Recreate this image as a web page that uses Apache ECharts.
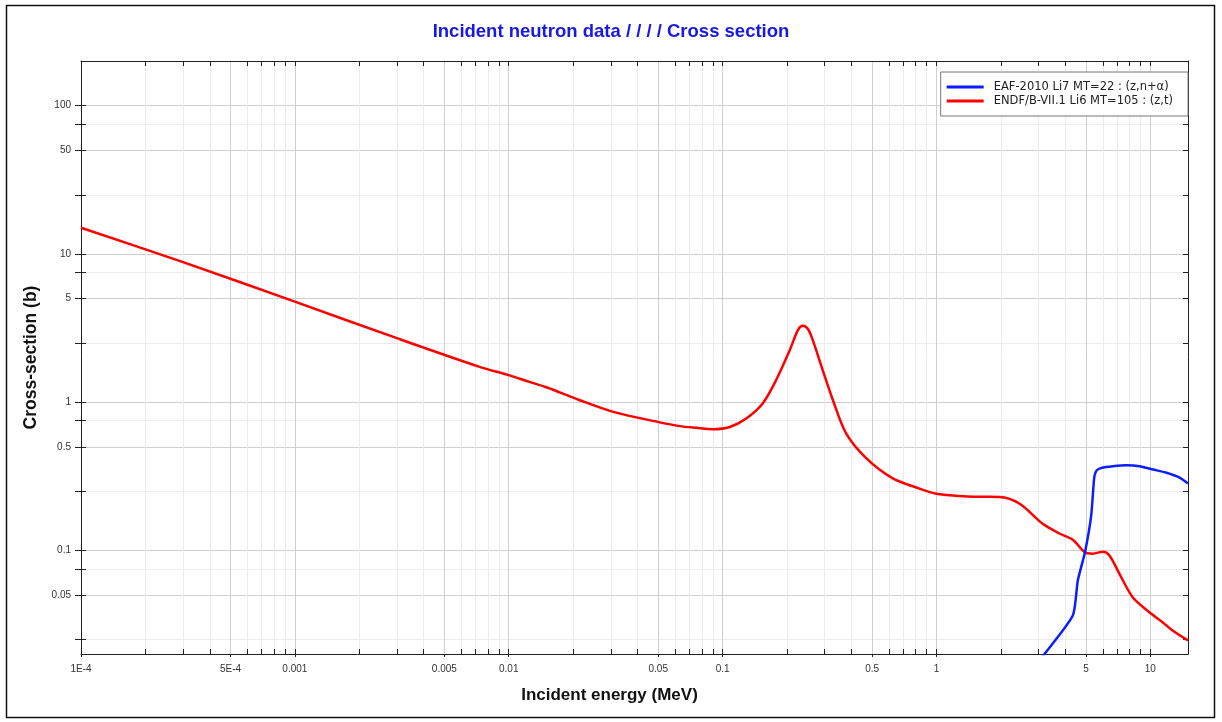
<!DOCTYPE html>
<html>
<head>
<meta charset="utf-8">
<script src="https://cdn.jsdelivr.net/npm/echarts@6/dist/echarts.min.js"></script>
<style>
html,body{margin:0;padding:0;background:#fff;}
#chart{width:1222px;height:722px;}
</style>
</head>
<body>
<div id="chart"></div>
<script>
// ---- Data (energies in MeV, cross sections in barns) ----
const endfName = 'ENDF/B-VII.1 Li6 MT=105 : (z,t)';
const endfEnergy = [1e-4, 3e-4, 1e-3, 3e-3, 7.31e-3, 0.01, 0.0125, 0.015, 0.0215, 0.0308, 0.0497, 0.063, 0.0754, 0.0903, 0.108, 0.129, 0.154, 0.178, 0.206, 0.225, 0.237, 0.251, 0.264, 0.294, 0.328, 0.378, 0.469, 0.625, 0.833, 1.0, 1.28, 1.59, 1.97, 2.44, 3.14, 3.76, 4.34, 4.92, 5.38, 6.0, 6.44, 7.17, 8.27, 9.89, 11.4, 12.7, 15];
const endfXs = [15.0, 8.8, 4.76, 2.7, 1.73, 1.52, 1.37, 1.26, 1.03, 0.86, 0.736, 0.689, 0.671, 0.657, 0.68, 0.776, 0.98, 1.41, 2.24, 3.06, 3.27, 3.1, 2.62, 1.64, 1.03, 0.615, 0.419, 0.306, 0.261, 0.241, 0.233, 0.230, 0.229, 0.207, 0.151, 0.130, 0.118, 0.0975, 0.095, 0.098, 0.0925, 0.0695, 0.0483, 0.0383, 0.0328, 0.0288, 0.0247];

const eafName = 'EAF-2010 Li7 MT=22 : (z,n+\u03b1)';
const eafEnergy = [2.9, 3.2, 4.34, 4.58, 4.95, 5.29, 5.47, 5.6, 5.78, 6.2, 6.67, 7.7, 8.89, 10.3, 11.8, 13.7, 15];
const eafXs = [0.0166, 0.020, 0.0364, 0.0627, 0.0975, 0.172, 0.313, 0.345, 0.356, 0.365, 0.37, 0.375, 0.37, 0.351, 0.335, 0.31, 0.283];

// ---- Axes ----
const xMin = 1e-4, xMax = 15;
const yMin = 0.02, yMax = 200;
const xLabelValues = [1e-4, 5e-4, 1e-3, 5e-3, 0.01, 0.05, 0.1, 0.5, 1, 5, 10];
const xLabelTexts = ['1E-4', '5E-4', '0.001', '0.005', '0.01', '0.05', '0.1', '0.5', '1', '5', '10'];
const xMinorMantissas = [2, 3, 4, 6, 7, 8, 9];
const yLabelValues = [100, 50, 10, 5, 1, 0.5, 0.1, 0.05];
const yLabelTexts = ['100', '50', '10', '5', '1', '0.5', '0.1', '0.05'];
const yMinorValues = [75, 25, 7.5, 2.5, 0.75, 0.25, 0.075, 0.025];

const L = Math.log10;
const xMajor = xLabelValues.map(L);
const xAll = [];
for (let d = -4; d <= 1; d++) {
  [1].concat(xMinorMantissas).forEach(m => {
    const v = m * Math.pow(10, d);
    if (v >= xMin && v <= xMax * 1.0001) xAll.push(L(v));
  });
}
const yMajor = yLabelValues.map(L);
const yAll = yMajor.concat(yMinorValues.map(L)).sort((a, b) => a - b);

function lookup(vals, texts, v) {
  let best = 0, bd = Infinity;
  vals.forEach((x, i) => { const d = Math.abs(L(x) - v); if (d < bd) { bd = d; best = i; } });
  return bd < 1e-6 ? texts[best] : '';
}

const FONT = "'Liberation Sans', Arial, sans-serif";
const lightGrid = '#ececec';
const darkGrid = '#cfcfcf';
const axisColor = '#222';

const xRange = { type: 'value', min: L(xMin), max: L(xMax), gridIndex: 0 };
const yRange = { type: 'value', min: L(yMin), max: L(yMax), gridIndex: 0 };

const chart = echarts.init(document.getElementById('chart'));
chart.setOption({
  animation: false,
  backgroundColor: '#fff',
  title: {
    text: 'Incident neutron data / / / / Cross section',
    left: 'center', top: 17,
    textStyle: { color: '#1818e6', fontSize: 18.5, fontWeight: 'bold', fontFamily: FONT }
  },
  legend: {
    orient: 'vertical', right: 34, top: 72,
    backgroundColor: '#fff', borderColor: '#777', borderWidth: 1,
    padding: [8, 15, 8, 6], itemGap: 0,
    itemWidth: 37, itemHeight: 3, icon: 'rect',
    textStyle: { fontSize: 11.5, lineHeight: 14, color: '#222', fontFamily: "'DejaVu Sans', sans-serif", padding: [0, 0, 0, 5] },
    data: [eafName, endfName]
  },
  grid: { left: 81, right: 34, top: 61, bottom: 68, containLabel: false },
  xAxis: [
    Object.assign({}, xRange, {
      position: 'bottom',
      name: 'Incident energy (MeV)', nameLocation: 'middle', nameGap: 33,
      nameTextStyle: { fontSize: 17, fontWeight: 'bold', color: '#111', fontFamily: FONT, padding: [0, 50, 0, 0] },
      axisLine: { show: true, onZero: false, lineStyle: { color: axisColor, width: 1 } },
      axisTick: { show: true, inside: true, length: 5, customValues: xAll, lineStyle: { color: axisColor } },
      axisLabel: { show: true, customValues: xMajor, margin: 10, fontSize: 10, color: '#333', fontFamily: FONT,
        formatter: v => lookup(xLabelValues, xLabelTexts, v) },
      splitLine: { show: true, lineStyle: { color: lightGrid, width: 1 } }
    }),
    Object.assign({}, xRange, {
      position: 'bottom',
      axisLine: { show: false, onZero: false },
      axisTick: { show: true, inside: false, length: 3, customValues: xMajor, lineStyle: { color: axisColor } },
      axisLabel: { show: false },
      splitLine: { show: true, lineStyle: { color: darkGrid, width: 1 } }
    }),
    Object.assign({}, xRange, {
      position: 'top',
      axisLine: { show: true, onZero: false, lineStyle: { color: axisColor, width: 1 } },
      axisTick: { show: true, inside: true, length: 5, customValues: xAll, lineStyle: { color: axisColor } },
      axisLabel: { show: false },
      splitLine: { show: false }
    })
  ],
  yAxis: [
    Object.assign({}, yRange, {
      position: 'left',
      name: 'Cross-section (b)', nameLocation: 'middle', nameGap: 41, nameRotate: 90,
      nameTextStyle: { fontSize: 17.5, fontWeight: 'bold', color: '#111', fontFamily: FONT },
      axisLine: { show: true, onZero: false, lineStyle: { color: axisColor, width: 1 } },
      axisTick: { show: true, inside: false, length: 6, customValues: yAll, lineStyle: { color: axisColor } },
      axisLabel: { show: true, customValues: yMajor, margin: 10, fontSize: 10, color: '#333', fontFamily: FONT,
        formatter: v => lookup(yLabelValues, yLabelTexts, v) },
      splitLine: { show: true, lineStyle: { color: lightGrid, width: 1 } }
    }),
    Object.assign({}, yRange, {
      position: 'left',
      axisLine: { show: false, onZero: false },
      axisTick: { show: true, inside: true, length: 5, customValues: yAll, lineStyle: { color: axisColor } },
      axisLabel: { show: false },
      splitLine: { show: false }
    }),
    Object.assign({}, yRange, {
      position: 'left',
      axisLine: { show: false, onZero: false },
      axisTick: { show: false, customValues: yMajor },
      axisLabel: { show: false },
      splitLine: { show: true, lineStyle: { color: darkGrid, width: 1 } }
    }),
    Object.assign({}, yRange, {
      position: 'right',
      axisLine: { show: true, onZero: false, lineStyle: { color: axisColor, width: 1 } },
      axisTick: { show: true, inside: true, length: 5, customValues: yAll, lineStyle: { color: axisColor } },
      axisLabel: { show: false },
      splitLine: { show: false }
    })
  ],
  graphic: [{
    type: 'rect', silent: true, z: 100,
    shape: { x: 6.5, y: 5.5, width: 1208, height: 712 },
    style: { fill: 'none', stroke: '#111', lineWidth: 1.5 }
  }],
  series: [
    {
      name: endfName, type: 'line', xAxisIndex: 0, yAxisIndex: 0,
      showSymbol: false, smooth: 0.3, clip: true,
      lineStyle: { color: '#ff0000', width: 2.5 }, itemStyle: { color: '#ff0000' },
      data: endfEnergy.map((e, i) => [L(e), L(endfXs[i])])
    },
    {
      name: eafName, type: 'line', xAxisIndex: 0, yAxisIndex: 0,
      showSymbol: false, smooth: 0.2, clip: true,
      lineStyle: { color: '#0a1eff', width: 2.5 }, itemStyle: { color: '#0a1eff' },
      data: eafEnergy.map((e, i) => [L(e), L(eafXs[i])])
    }
  ]
});
</script>
</body>
</html>
